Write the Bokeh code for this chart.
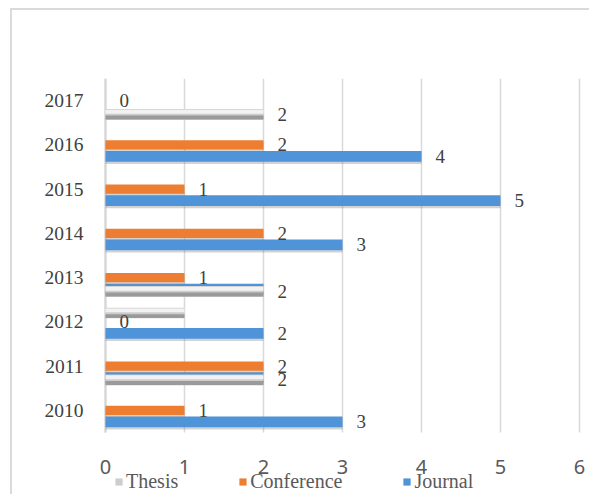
from bokeh.plotting import figure
from bokeh.models import Range1d, Legend, LegendItem, ColumnDataSource, FixedTicker
from bokeh.transform import dodge
from bokeh.core.properties import value
from bokeh.embed import file_html
from bokeh.resources import INLINE

# ---- data ----
years = ["2010", "2011", "2012", "2013", "2014", "2015", "2016", "2017"]
journal = [3, 2, 2, 2, 3, 5, 4, 0]
conference = [1, 2, 0, 1, 2, 1, 2, 0]
thesis = [0, 2, 1, 2, 0, 0, 0, 2]
x_ticks = [0, 1, 2, 3, 4, 5, 6]
series_names = ["Thesis", "Conference", "Journal"]

C_TH = "#cdcdcd"
C_CO = "#ED7D31"
C_JO = "#4F93D8"
SERIF = "Liberation Serif"

ypos = list(range(len(years)))          # category positions, 2010 at the bottom
n = len(years)

# thesis bar shares the journal slot when it is not shorter than the journal bar
th_low = [t >= j for t, j in zip(thesis, journal)]

src = ColumnDataSource(dict(y=ypos, journal=journal, conference=conference))
src_th_low = ColumnDataSource(dict(
    y=[y for y, f in zip(ypos, th_low) if f],
    thesis=[t for t, f in zip(thesis, th_low) if f]))
src_th_up = ColumnDataSource(dict(
    y=[y for y, f in zip(ypos, th_low) if not f],
    thesis=[t for t, f in zip(thesis, th_low) if not f]))

lab_co = ColumnDataSource(dict(y=ypos, v=conference, t=[str(v) for v in conference]))
jl = [(y, v) for y, v, f in zip(ypos, journal, th_low) if not f and v > 0]
lab_jo = ColumnDataSource(dict(y=[a for a, b in jl], v=[b for a, b in jl], t=[str(b) for a, b in jl]))
tl = [(y, v) for y, v, f in zip(ypos, thesis, th_low) if f and v > 0]
lab_th = ColumnDataSource(dict(y=[a for a, b in tl], v=[b for a, b in tl], t=[str(b) for a, b in tl]))

# plot frame reaches the page edges; margins of the frame hold tick labels and legend
p = figure(width=579, height=486, x_range=Range1d(-0.177, 6.152),
           y_range=Range1d(-1.946, n - 0.5),
           output_backend="svg", toolbar_location=None,
           min_border_left=79, min_border_top=68, min_border_right=0, min_border_bottom=0)
p.styles = {"margin-left": "10px", "margin-top": "8px",
            "border-left": "2px solid #dadada", "border-top": "2px solid #dadada"}
p.outline_line_color = None
p.background_fill_color = "white"
p.xaxis.visible = False
p.xgrid.grid_line_color = None
p.ygrid.grid_line_color = None

# vertical grid lines over the bar area only
p.segment(x0=x_ticks, x1=x_ticks, y0=[-0.5] * len(x_ticks), y1=[n - 0.5] * len(x_ticks),
          line_color="#d9d9d9", line_width=1.5)
p.segment(x0=[x_ticks[0]], x1=[x_ticks[0]], y0=[-0.5], y1=[n - 0.5],
          line_color="#d6d6d6", line_width=2.2)

# offsets (positive = up in the category band)
J_OFF, C_OFF, T_LOW, T_UP = -0.26, 0.0, -0.31, 0.2
SH = -0.05
H = 0.24

# journal
p.hbar(y=dodge("y", J_OFF + SH), right="journal", left=0, height=H,
       source=src, fill_color="#808080", fill_alpha=0.35, line_color=None)
rj = p.hbar(y=dodge("y", J_OFF), right="journal", left=0, height=H,
            source=src, fill_color=C_JO, line_color=None)
# thesis sharing journal slot
p.hbar(y=dodge("y", T_LOW), right="thesis", left=0, height=H,
       source=src_th_low, fill_color=C_TH, line_color=None)
p.hbar(y=dodge("y", T_LOW - 0.07), right="thesis", left=0, height=0.09,
       source=src_th_low, fill_color="#9a9a9a", line_color=None)
p.hbar(y=dodge("y", T_LOW + 0.06), right="thesis", left=0, height=0.09,
       source=src_th_low, fill_color="#f2f2f2", line_color=None)
# conference
p.hbar(y=dodge("y", C_OFF + SH), right="conference", left=0, height=0.21,
       source=src, fill_color="#808080", fill_alpha=0.35, line_color=None)
rc = p.hbar(y=dodge("y", C_OFF), right="conference", left=0, height=0.21,
            source=src, fill_color=C_CO, line_color=None)
# thesis in upper slot
rt = p.hbar(y=dodge("y", T_UP), right="thesis", left=0, height=H,
            source=src_th_up, fill_color=C_TH, line_color=None)
p.hbar(y=dodge("y", T_UP - 0.07), right="thesis", left=0, height=0.09,
       source=src_th_up, fill_color="#9a9a9a", line_color=None)
p.hbar(y=dodge("y", T_UP + 0.06), right="thesis", left=0, height=0.09,
       source=src_th_up, fill_color="#f2f2f2", line_color=None)

# data labels
for s, off in ((lab_co, C_OFF), (lab_jo, J_OFF), (lab_th, T_LOW)):
    p.text(x="v", y=dodge("y", off), text="t", source=s,
           x_offset=14, text_align="left", text_baseline="middle",
           text_font=value(SERIF), text_font_size="19px", text_color="#404040")

# x tick labels (value axis)
p.text(x=x_ticks, y=[-0.5] * len(x_ticks), text=[str(t) for t in x_ticks],
       y_offset=34, text_align="center", text_baseline="middle",
       text_font=value("Noto Sans"), text_font_size="20px", text_color="#595959")

# category axis
p.yaxis.ticker = FixedTicker(ticks=ypos)
p.yaxis.major_label_overrides = {i: y for i, y in zip(ypos, years)}
p.yaxis.axis_line_color = None
p.yaxis.major_tick_line_color = None
p.yaxis.minor_tick_line_color = None
p.yaxis.major_label_text_font = SERIF
p.yaxis.major_label_text_font_size = "19.5px"
p.yaxis.major_label_text_color = "#404040"
p.yaxis.major_label_standoff = 2

legend = Legend(items=[LegendItem(label=series_names[0], renderers=[rt]),
                       LegendItem(label=series_names[1], renderers=[rc]),
                       LegendItem(label=series_names[2], renderers=[rj])],
                orientation="horizontal", location=(23, 3),
                border_line_color=None, background_fill_alpha=0,
                padding=0, margin=0, spacing=60, label_standoff=3,
                glyph_width=9, glyph_height=9,
                label_text_font=SERIF, label_text_font_size="20px",
                label_text_color="#595959")
p.add_layout(legend, "center")

open("out.html", "w").write(file_html(p, INLINE))
